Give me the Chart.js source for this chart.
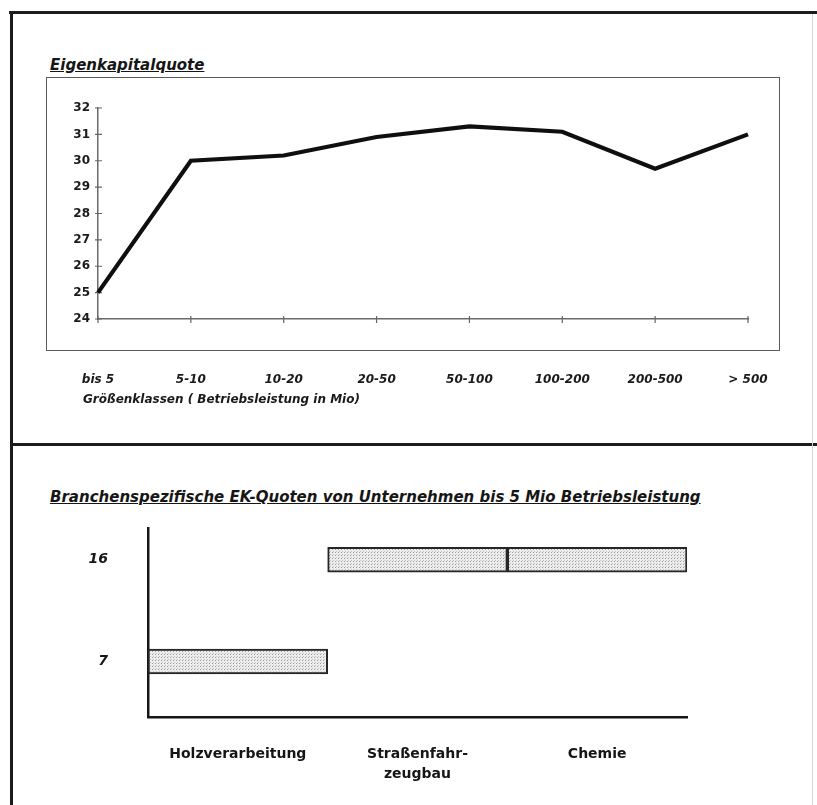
<!DOCTYPE html>
<html>
<head>
<meta charset="utf-8">
<script src="https://cdn.jsdelivr.net/npm/chart.js@4.4.1/dist/chart.umd.min.js"></script>
<style>
  html, body { margin: 0; padding: 0; background: #fff; }
  body { width: 817px; height: 805px; position: relative; overflow: hidden;
         font-family: "DejaVu Sans", sans-serif; color: #111; }
  .rule { position: absolute; background: #1c1c1c; }
  .title { position: absolute; font-weight: bold; font-style: italic; font-size: 15px;
           line-height: 1; text-decoration: underline; white-space: nowrap; color: #161616; }
  .axis-title { position: absolute; font-weight: bold; font-style: italic; font-size: 12px;
                line-height: 1; white-space: nowrap; color: #1a1a1a; }
  .box { position: absolute; border: 1.5px solid #5a5a5a; box-sizing: border-box; }
  .cw { position: absolute; }
</style>
</head>
<body>
<!-- page frame -->
<div class="rule" style="left:9px;top:11px;width:808px;height:3px"></div>
<div class="rule" style="left:10px;top:11px;width:3px;height:794px"></div>
<div class="rule" style="left:10px;top:443px;width:807px;height:3px"></div>
<div class="rule" style="left:812px;top:14px;width:1px;height:791px;background:#d8d8d8"></div>

<!-- upper panel -->
<div class="title" style="left:50px;top:58px">Eigenkapitalquote</div>
<div class="box" style="left:46px;top:77px;width:734px;height:274px"></div>
<div class="cw" style="left:47px;top:77px;width:732px;height:340px"><canvas id="ratioBySize"></canvas></div>
<div class="axis-title" style="left:83px;top:393px">Größenklassen ( Betriebsleistung in Mio)</div>

<!-- lower panel -->
<div class="title" style="left:50px;top:490px">Branchenspezifische EK-Quoten von Unternehmen bis 5 Mio Betriebsleistung</div>
<div class="cw" style="left:11px;top:444px;width:806px;height:361px"><canvas id="ratioByIndustry"></canvas></div>

<script>
// Equity ratio (%) by company size class
const sizeClasses = ['bis 5', '5-10', '10-20', '20-50', '50-100', '100-200', '200-500', '> 500'];
const equityRatio = [25.0, 30.0, 30.2, 30.9, 31.3, 31.1, 29.7, 31.0];
const ratioAxisMin = 24;
const ratioAxisMax = 32;
const ratioAxisStep = 1;

// Equity ratio (%) by industry, companies up to 5 Mio output
const industries = ['Holzverarbeitung', ['Straßenfahr-', 'zeugbau'], 'Chemie'];
const industryRatio = [7, 16, 16];

// ---- styling helpers ----
const FONT = '"DejaVu Sans", sans-serif';
const BAR_HALF = 1.1; // half thickness of a level band, in axis units

function stipplePattern() {
  const tile = document.createElement('canvas');
  tile.width = 3; tile.height = 3;
  const g = tile.getContext('2d');
  g.fillStyle = '#ededed';
  g.fillRect(0, 0, 3, 3);
  g.fillStyle = '#9c9c9c';
  g.fillRect(0, 0, 1, 1);
  g.fillStyle = '#c4c4c4';
  g.fillRect(1, 2, 1, 1);
  return document.createElement('canvas').getContext('2d').createPattern(tile, 'repeat');
}

// small "+" shaped tick marks crossing both axes
const crossTicks = {
  id: 'crossTicks',
  beforeDatasetsDraw(chart) {
    const { ctx, scales: { x, y } } = chart;
    ctx.save();
    ctx.strokeStyle = '#666';
    ctx.lineWidth = 1.2;
    ctx.beginPath();
    x.ticks.forEach((t, i) => {
      const px = x.getPixelForTick(i);
      ctx.moveTo(px, x.top - 3); ctx.lineTo(px, x.top + 4);
    });
    y.ticks.forEach((t, i) => {
      const py = y.getPixelForTick(i);
      ctx.moveTo(y.right - 3, py); ctx.lineTo(y.right + 4, py);
    });
    ctx.stroke();
    ctx.restore();
  }
};

Chart.defaults.animation = false;
Chart.defaults.font.family = FONT;
Chart.defaults.color = '#151515';

// ---- line chart: equity ratio by size class ----
new Chart(document.getElementById('ratioBySize'), {
  type: 'line',
  data: {
    labels: sizeClasses,
    datasets: [{
      data: equityRatio,
      borderColor: '#0f0f0f',
      borderWidth: 4.2,
      borderJoinStyle: 'miter',
      tension: 0,
      pointRadius: 0,
      fill: false
    }]
  },
  options: {
    responsive: true,
    maintainAspectRatio: false,
    layout: { padding: { left: 0, right: 31, top: 31, bottom: 0 } },
    plugins: { legend: { display: false }, tooltip: { enabled: false } },
    scales: {
      x: {
        type: 'category',
        offset: false,
        grid: { display: false, drawTicks: false },
        border: { display: true, color: '#6a6a6a', width: 1.5 },
        ticks: {
          autoSkip: false, maxRotation: 0, padding: 54,
          font: { size: 12, weight: 'bold', style: 'italic' }, color: '#1a1a1a'
        },
        afterFit(scale) {
          scale.height = 98;
          scale.paddingLeft = 0;
          scale.paddingRight = 0;
        }
      },
      y: {
        min: ratioAxisMin,
        max: ratioAxisMax,
        grid: { display: false, drawTicks: false },
        border: { display: true, color: '#6a6a6a', width: 1.5 },
        ticks: {
          stepSize: ratioAxisStep, padding: 8,
          font: { size: 12, weight: 'bold' }, color: '#1a1a1a'
        },
        afterFit(scale) {
          scale.width = 51;
          scale.paddingTop = 0;
          scale.paddingBottom = 0;
        }
      }
    }
  },
  plugins: [crossTicks]
});

// ---- level bands: equity ratio by industry ----
new Chart(document.getElementById('ratioByIndustry'), {
  type: 'bar',
  data: {
    labels: industries,
    datasets: [{
      data: industryRatio.map(v => [v - BAR_HALF, v + BAR_HALF]),
      backgroundColor: stipplePattern(),
      borderColor: '#262626',
      borderWidth: 2,
      borderSkipped: false,
      categoryPercentage: 1,
      barPercentage: 1
    }]
  },
  options: {
    responsive: true,
    maintainAspectRatio: false,
    layout: { padding: { left: 0, right: 130, top: 84, bottom: 0 } },
    plugins: { legend: { display: false }, tooltip: { enabled: false } },
    scales: {
      x: {
        grid: { display: false, drawTicks: false },
        border: { display: true, color: '#151515', width: 2.5 },
        ticks: {
          autoSkip: false, maxRotation: 0, padding: 27,
          font: { size: 14, weight: 'bold', lineHeight: 1.45 }, color: '#151515'
        },
        afterFit(scale) { scale.height = 88; }
      },
      y: {
        min: 2.1,
        max: 18.8,
        grid: { display: false, drawTicks: false },
        border: { display: true, color: '#151515', width: 2.5 },
        afterBuildTicks(scale) {
          scale.ticks = [...new Set(industryRatio)].sort((a, b) => a - b).map(v => ({ value: v }));
        },
        ticks: {
          padding: 40,
          font: { size: 14, weight: 'bold', style: 'italic' }, color: '#151515'
        },
        afterFit(scale) { scale.width = 137; }
      }
    }
  }
});
</script>
</body>
</html>
